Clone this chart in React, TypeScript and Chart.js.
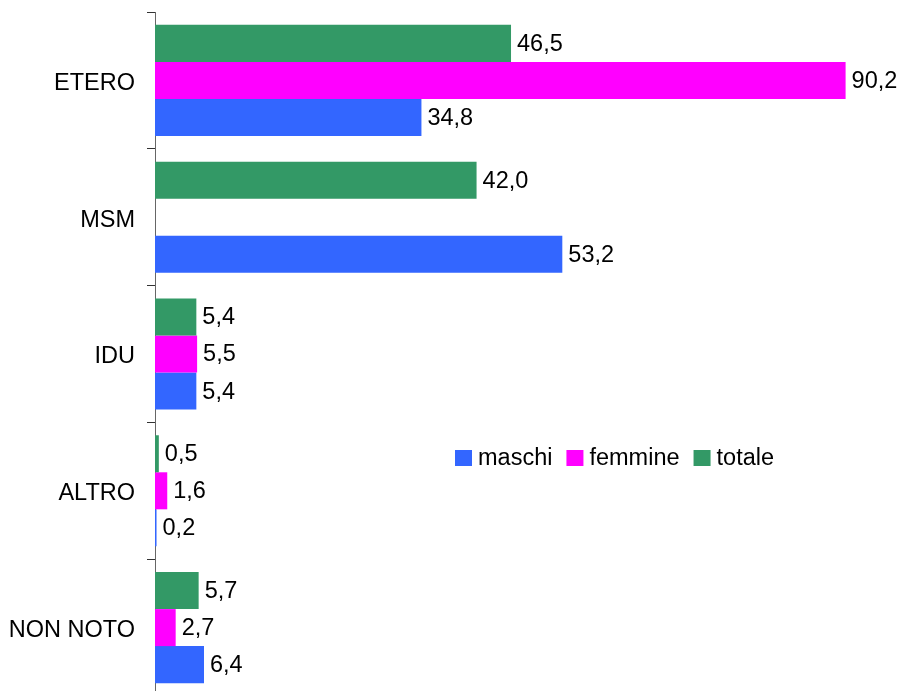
import React, { useEffect, useRef } from "react";
import { Chart, registerables } from "chart.js";

Chart.register(...registerables);

const categories = ["ETERO", "MSM", "IDU", "ALTRO", "NON NOTO"];
const totale = [46.5, 42.0, 5.4, 0.5, 5.7];
const femmine: (number | null)[] = [90.2, null, 5.5, 1.6, 2.7];
const maschi = [34.8, 53.2, 5.4, 0.2, 6.4];

const seriesNames = ["maschi", "femmine", "totale"];
const BLUE = "#3366FF";
const MAGENTA = "#FF00FF";
const GREEN = "#339966";

const FONT = "'Liberation Sans', Arial, sans-serif";
const FONT_SIZE = 23.5;

const fmt = (v: number) => v.toFixed(1).replace(".", ",");

// Writes each bar's value just past its end.
const valueLabels = {
  id: "valueLabels",
  afterDatasetsDraw(chart: any) {
    const ctx = chart.ctx;
    ctx.save();
    ctx.font = `${FONT_SIZE}px ${FONT}`;
    ctx.fillStyle = "#000";
    ctx.textAlign = "left";
    ctx.textBaseline = "middle";
    chart.data.datasets.forEach((ds: any, di: number) => {
      const meta = chart.getDatasetMeta(di);
      meta.data.forEach((el: any, i: number) => {
        const v = ds.data[i];
        if (v === null || v === undefined) return;
        ctx.fillText(fmt(v), el.x + 6, el.y + 1);
      });
    });
    ctx.restore();
  },
};

// Legend row drawn inside the plot area: maschi, femmine, totale.
const innerLegend = {
  id: "innerLegend",
  afterDraw(chart: any) {
    const ctx = chart.ctx;
    const colors = [BLUE, MAGENTA, GREEN];
    ctx.save();
    ctx.font = `${FONT_SIZE}px ${FONT}`;
    ctx.textBaseline = "middle";
    ctx.textAlign = "left";
    let x = 455;
    const y = 458;
    const box = 16;
    seriesNames.forEach((name, i) => {
      ctx.fillStyle = colors[i];
      ctx.fillRect(x, y - box / 2, box + 1, box);
      x += box + 7;
      ctx.fillStyle = "#000";
      ctx.fillText(name, x, y + 1);
      x += ctx.measureText(name).width + 14;
    });
    ctx.restore();
  },
};

export default function App() {
  const canvasRef = useRef<HTMLCanvasElement | null>(null);

  useEffect(() => {
    const canvas = canvasRef.current;
    if (!canvas) return;
    const chart = new Chart(canvas, {
      type: "bar",
      data: {
        labels: categories,
        datasets: [
          { label: "totale", data: totale, backgroundColor: GREEN },
          { label: "femmine", data: femmine, backgroundColor: MAGENTA },
          { label: "maschi", data: maschi, backgroundColor: BLUE },
        ],
      },
      options: {
        indexAxis: "y",
        responsive: false,
        animation: false,
        devicePixelRatio: 1,
        layout: { padding: { left: 0, top: 12, right: 9, bottom: 4 } },
        datasets: {
          bar: { categoryPercentage: 0.812, barPercentage: 1 },
        },
        plugins: {
          legend: { display: false },
          tooltip: { enabled: false },
        },
        scales: {
          x: {
            display: false,
            min: 0,
            max: 96,
          },
          y: {
            afterFit(scale: any) {
              scale.width = 155;
              scale.paddingTop = 0;
              scale.paddingBottom = 0;
            },
            border: { display: true, color: "#666", width: 1 },
            grid: {
              offset: true,
              drawOnChartArea: false,
              drawTicks: true,
              tickLength: 8,
              color: "#333",
            },
            ticks: {
              padding: 12,
              labelOffset: 3,
              color: "#000",
              font: { family: FONT, size: FONT_SIZE },
            },
          },
        },
      },
      plugins: [valueLabels, innerLegend],
    });
    return () => chart.destroy();
  }, []);

  return (
    <div
      style={{
        position: "fixed",
        left: 0,
        top: 0,
        width: 899,
        height: 691,
        overflow: "hidden",
        background: "#fff",
      }}
    >
      <canvas
        ref={canvasRef}
        width={899}
        height={700}
        style={{ width: 899, height: 700, display: "block" }}
      />
    </div>
  );
}
